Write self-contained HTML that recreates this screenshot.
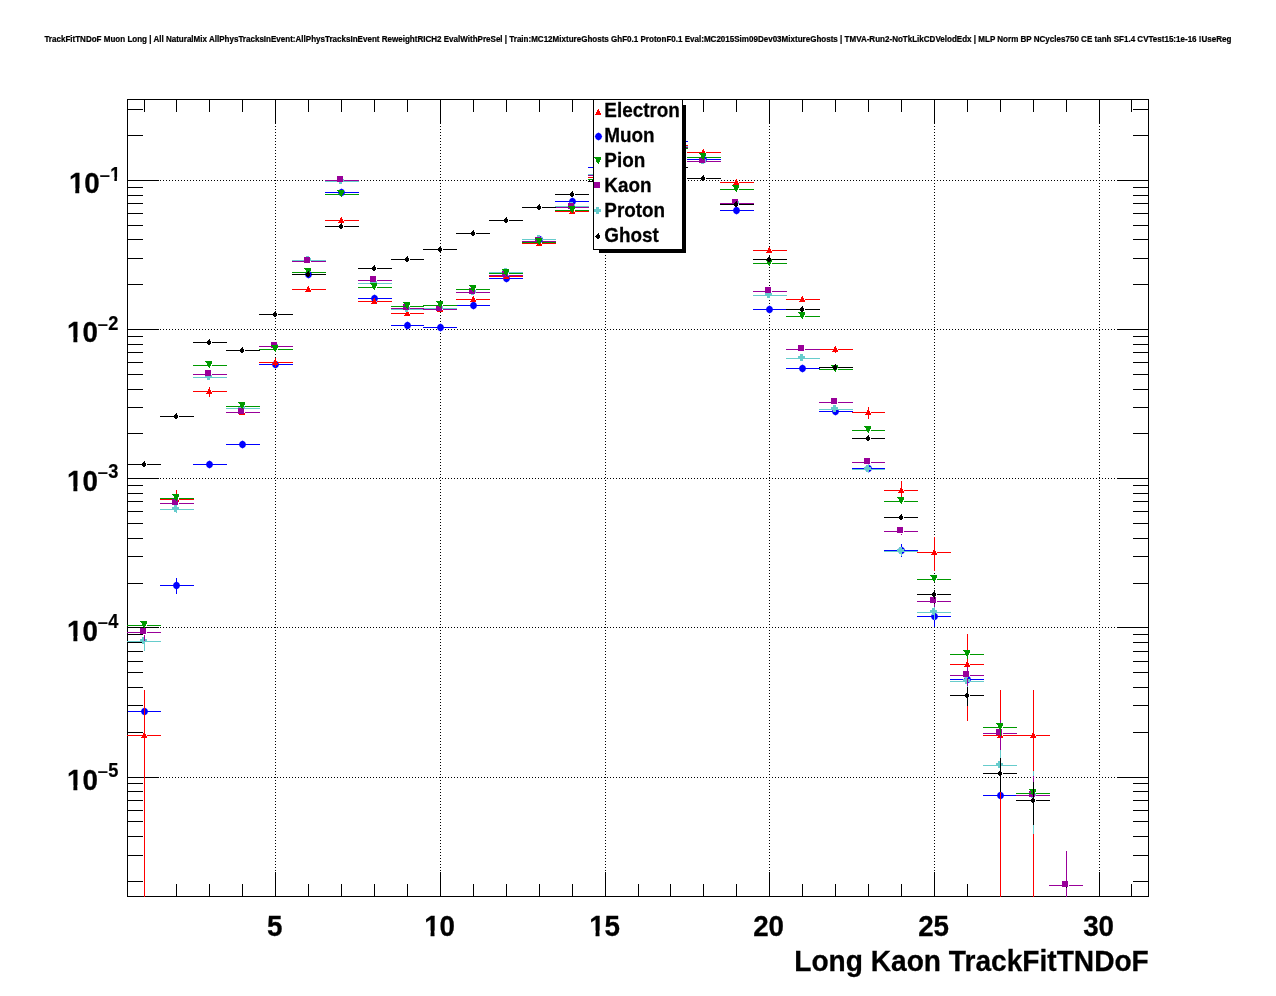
<!DOCTYPE html>
<html lang="en"><head><meta charset="utf-8"><title>Long Kaon TrackFitTNDoF</title>
<style>html,body{margin:0;padding:0;background:#fff}body{width:1276px;height:996px;overflow:hidden}svg{display:block}text{font-family:"Liberation Sans",sans-serif;font-weight:bold;fill:#000}</style></head><body>
<svg width="1276" height="996" viewBox="0 0 1276 996">
<rect width="1276" height="996" fill="#fff"/>
<defs>
<path id="m-electron" d="M0 -3h1v1h-1zM-1 -2h2v1h-2zM-1 -1h3v1h-3zM-2 0h4v1h-4zM-2 1h5v1h-5zM-3 2h6v1h-6z" fill="#ff0000" shape-rendering="crispEdges"/>
<path id="m-pion" d="M-4 -4h7v1h-7zM-3 -3h6v1h-6zM-2 -2h5v1h-5zM-2 -1h4v1h-4zM-2 0h4v1h-4zM-1 1h2v1h-2zM0 2h1v1h-1z" fill="#009900" shape-rendering="crispEdges"/>
<path id="m-kaon" d="M-4 -4h6v1h-6zM-4 -3h6v1h-6zM-4 -2h6v1h-6zM-4 -1h6v1h-6zM-4 0h6v1h-6zM-4 1h6v1h-6z" fill="#990099" shape-rendering="crispEdges"/>
<path id="m-proton" d="M-2 -4h3v1h-3zM-2 -3h3v1h-3zM-4 -2h7v1h-7zM-4 -1h7v1h-7zM-4 0h7v1h-7zM-2 1h3v1h-3zM-2 2h3v1h-3z" fill="#66cccc" shape-rendering="crispEdges"/>
<path id="m-ghost" d="M0 -3h1v1h-1zM-1 -2h2v1h-2zM-2 -1h4v1h-4zM-3 0h5v1h-5zM-2 1h4v1h-4zM-1 2h2v1h-2z" fill="#000000" shape-rendering="crispEdges"/>
<path id="m-muon" d="M0.50 -3.40L3.08 -2.08L4.10 0.50L3.08 3.08L0.50 4.40L-2.08 3.08L-3.10 0.50L-2.08 -2.08Z" fill="#0000ff" shape-rendering="geometricPrecision"/>
<clipPath id="c10" clipPathUnits="userSpaceOnUse"><path clip-rule="evenodd" d="M-200-200H200V200H-200ZM-30.08 -4.73H-24.46V1.39H-30.08ZM-20.57 -4.73H-15.35V1.39H-20.57Z"/></clipPath>
<clipPath id="c1x" clipPathUnits="userSpaceOnUse"><path clip-rule="evenodd" d="M-200-200H200V200H-200ZM-14.62 -4.73H-9.01V1.39H-14.62ZM-5.12 -4.73H0.11V1.39H-5.12Z"/></clipPath>
<clipPath id="ce1" clipPathUnits="userSpaceOnUse"><path clip-rule="evenodd" d="M-200-200H200V200H-200ZM11.17 -3.09H14.85V0.91H11.17ZM17.40 -3.09H20.82V0.91H17.40Z"/></clipPath>
</defs>
<text transform="translate(44.4 42.1) scale(1 1.1)" font-size="8.05" textLength="1187" lengthAdjust="spacingAndGlyphs" stroke="#000" stroke-width="0.22">TrackFitTNDoF Muon Long | All NaturalMix AllPhysTracksInEvent:AllPhysTracksInEvent ReweightRICH2 EvalWithPreSel | Train:MC12MixtureGhosts GhF0.1 ProtonF0.1 Eval:MC2015Sim09Dev03MixtureGhosts | TMVA-Run2-NoTkLikCDVelodEdx | MLP Norm BP NCycles750 CE tanh SF1.4 CVTest15:1e-16 !UseReg</text>
<g shape-rendering="crispEdges" fill="#000">
<path d="M127 180.5H1149" stroke="#000" stroke-width="1" stroke-dasharray="1 2" fill="none"/>
<path d="M127 329.5H1149" stroke="#000" stroke-width="1" stroke-dasharray="1 2" fill="none"/>
<path d="M127 478.5H1149" stroke="#000" stroke-width="1" stroke-dasharray="1 2" fill="none"/>
<path d="M127 627.5H1149" stroke="#000" stroke-width="1" stroke-dasharray="1 2" fill="none"/>
<path d="M127 777.5H1149" stroke="#000" stroke-width="1" stroke-dasharray="1 2" fill="none"/>
<path d="M275.5 99V897" stroke="#000" stroke-width="1" stroke-dasharray="1 2" fill="none"/>
<path d="M440.5 99V897" stroke="#000" stroke-width="1" stroke-dasharray="1 2" fill="none"/>
<path d="M605.5 99V897" stroke="#000" stroke-width="1" stroke-dasharray="1 2" fill="none"/>
<path d="M769.5 99V897" stroke="#000" stroke-width="1" stroke-dasharray="1 2" fill="none"/>
<path d="M934.5 99V897" stroke="#000" stroke-width="1" stroke-dasharray="1 2" fill="none"/>
<path d="M1099.5 99V897" stroke="#000" stroke-width="1" stroke-dasharray="1 2" fill="none"/>
</g>
<g fill="#0000ff" shape-rendering="crispEdges"><path d="M127 711h15v1h-15zM147 711h14v1h-14zM160 585h14v1h-14zM179 585h15v1h-15zM176 578h1v5h-1zM176 588h1v6h-1zM193 464h14v1h-14zM212 464h15v1h-15zM226 444h14v1h-14zM245 444h15v1h-15zM259 364h14v1h-14zM278 364h15v1h-15zM292 274h14v1h-14zM311 274h15v1h-15zM325 192h14v1h-14zM344 192h15v1h-15zM358 298h14v1h-14zM377 298h15v1h-15zM391 325h14v1h-14zM410 325h14v1h-14zM423 327h15v1h-15zM443 327h14v1h-14zM456 305h15v1h-15zM476 305h14v1h-14zM489 278h15v1h-15zM509 278h14v1h-14zM522 239h15v1h-15zM542 239h14v1h-14zM555 201h15v1h-15zM575 201h14v1h-14zM588 167h15v1h-15zM608 167h14v1h-14zM621 150h15v1h-15zM641 150h14v1h-14zM654 141h14v1h-14zM673 141h15v1h-15zM687 159h14v1h-14zM706 159h15v1h-15zM720 210h14v1h-14zM739 210h15v1h-15zM753 309h14v1h-14zM772 309h15v1h-15zM786 368h14v1h-14zM805 368h15v1h-15zM819 411h14v1h-14zM838 411h15v1h-15zM852 468h14v1h-14zM871 468h14v1h-14zM884 550h15v1h-15zM904 550h14v1h-14zM901 544h1v4h-1zM901 553h1v4h-1zM917 616h15v1h-15zM937 616h14v1h-14zM934 607h1v7h-1zM934 619h1v8h-1zM950 679h15v1h-15zM970 679h14v1h-14zM967 668h1v9h-1zM967 682h1v10h-1zM983 795h15v1h-15zM1003 795h14v1h-14zM1000 760h1v33h-1zM1000 798h1v99h-1z"/><use href="#m-muon" x="144" y="711"/><use href="#m-muon" x="176" y="585"/><use href="#m-muon" x="209" y="464"/><use href="#m-muon" x="242" y="444"/><use href="#m-muon" x="275" y="364"/><use href="#m-muon" x="308" y="274"/><use href="#m-muon" x="341" y="192"/><use href="#m-muon" x="374" y="298"/><use href="#m-muon" x="407" y="325"/><use href="#m-muon" x="440" y="327"/><use href="#m-muon" x="473" y="305"/><use href="#m-muon" x="506" y="278"/><use href="#m-muon" x="539" y="239"/><use href="#m-muon" x="572" y="201"/><use href="#m-muon" x="605" y="167"/><use href="#m-muon" x="638" y="150"/><use href="#m-muon" x="670" y="141"/><use href="#m-muon" x="703" y="159"/><use href="#m-muon" x="736" y="210"/><use href="#m-muon" x="769" y="309"/><use href="#m-muon" x="802" y="368"/><use href="#m-muon" x="835" y="411"/><use href="#m-muon" x="868" y="468"/><use href="#m-muon" x="901" y="550"/><use href="#m-muon" x="934" y="616"/><use href="#m-muon" x="967" y="679"/><use href="#m-muon" x="1000" y="795"/></g>
<g shape-rendering="crispEdges" fill="#000">
<rect x="127" y="99" width="1022" height="1"/>
<rect x="127" y="896" width="1022" height="1"/>
<rect x="127" y="99" width="1" height="798"/>
<rect x="1148" y="99" width="1" height="798"/>
<rect x="144" y="884" width="1" height="12"/>
<rect x="144" y="100" width="1" height="12"/>
<rect x="176" y="884" width="1" height="12"/>
<rect x="176" y="100" width="1" height="12"/>
<rect x="209" y="884" width="1" height="12"/>
<rect x="209" y="100" width="1" height="12"/>
<rect x="242" y="884" width="1" height="12"/>
<rect x="242" y="100" width="1" height="12"/>
<rect x="275" y="872" width="1" height="24"/>
<rect x="275" y="100" width="1" height="24"/>
<rect x="308" y="884" width="1" height="12"/>
<rect x="308" y="100" width="1" height="12"/>
<rect x="341" y="884" width="1" height="12"/>
<rect x="341" y="100" width="1" height="12"/>
<rect x="374" y="884" width="1" height="12"/>
<rect x="374" y="100" width="1" height="12"/>
<rect x="407" y="884" width="1" height="12"/>
<rect x="407" y="100" width="1" height="12"/>
<rect x="440" y="872" width="1" height="24"/>
<rect x="440" y="100" width="1" height="24"/>
<rect x="473" y="884" width="1" height="12"/>
<rect x="473" y="100" width="1" height="12"/>
<rect x="506" y="884" width="1" height="12"/>
<rect x="506" y="100" width="1" height="12"/>
<rect x="539" y="884" width="1" height="12"/>
<rect x="539" y="100" width="1" height="12"/>
<rect x="572" y="884" width="1" height="12"/>
<rect x="572" y="100" width="1" height="12"/>
<rect x="605" y="872" width="1" height="24"/>
<rect x="605" y="100" width="1" height="24"/>
<rect x="638" y="884" width="1" height="12"/>
<rect x="638" y="100" width="1" height="12"/>
<rect x="670" y="884" width="1" height="12"/>
<rect x="670" y="100" width="1" height="12"/>
<rect x="703" y="884" width="1" height="12"/>
<rect x="703" y="100" width="1" height="12"/>
<rect x="736" y="884" width="1" height="12"/>
<rect x="736" y="100" width="1" height="12"/>
<rect x="769" y="872" width="1" height="24"/>
<rect x="769" y="100" width="1" height="24"/>
<rect x="802" y="884" width="1" height="12"/>
<rect x="802" y="100" width="1" height="12"/>
<rect x="835" y="884" width="1" height="12"/>
<rect x="835" y="100" width="1" height="12"/>
<rect x="868" y="884" width="1" height="12"/>
<rect x="868" y="100" width="1" height="12"/>
<rect x="901" y="884" width="1" height="12"/>
<rect x="901" y="100" width="1" height="12"/>
<rect x="934" y="872" width="1" height="24"/>
<rect x="934" y="100" width="1" height="24"/>
<rect x="967" y="884" width="1" height="12"/>
<rect x="967" y="100" width="1" height="12"/>
<rect x="1000" y="884" width="1" height="12"/>
<rect x="1000" y="100" width="1" height="12"/>
<rect x="1033" y="884" width="1" height="12"/>
<rect x="1033" y="100" width="1" height="12"/>
<rect x="1066" y="884" width="1" height="12"/>
<rect x="1066" y="100" width="1" height="12"/>
<rect x="1099" y="872" width="1" height="24"/>
<rect x="1099" y="100" width="1" height="24"/>
<rect x="1131" y="884" width="1" height="12"/>
<rect x="1131" y="100" width="1" height="12"/>
<rect x="128" y="180" width="31" height="1"/>
<rect x="1117" y="180" width="31" height="1"/>
<rect x="128" y="135" width="15" height="1"/>
<rect x="1133" y="135" width="15" height="1"/>
<rect x="128" y="109" width="15" height="1"/>
<rect x="1133" y="109" width="15" height="1"/>
<rect x="128" y="329" width="31" height="1"/>
<rect x="1117" y="329" width="31" height="1"/>
<rect x="128" y="284" width="15" height="1"/>
<rect x="1133" y="284" width="15" height="1"/>
<rect x="128" y="258" width="15" height="1"/>
<rect x="1133" y="258" width="15" height="1"/>
<rect x="128" y="239" width="15" height="1"/>
<rect x="1133" y="239" width="15" height="1"/>
<rect x="128" y="225" width="15" height="1"/>
<rect x="1133" y="225" width="15" height="1"/>
<rect x="128" y="213" width="15" height="1"/>
<rect x="1133" y="213" width="15" height="1"/>
<rect x="128" y="203" width="15" height="1"/>
<rect x="1133" y="203" width="15" height="1"/>
<rect x="128" y="195" width="15" height="1"/>
<rect x="1133" y="195" width="15" height="1"/>
<rect x="128" y="187" width="15" height="1"/>
<rect x="1133" y="187" width="15" height="1"/>
<rect x="128" y="478" width="31" height="1"/>
<rect x="1117" y="478" width="31" height="1"/>
<rect x="128" y="433" width="15" height="1"/>
<rect x="1133" y="433" width="15" height="1"/>
<rect x="128" y="407" width="15" height="1"/>
<rect x="1133" y="407" width="15" height="1"/>
<rect x="128" y="389" width="15" height="1"/>
<rect x="1133" y="389" width="15" height="1"/>
<rect x="128" y="374" width="15" height="1"/>
<rect x="1133" y="374" width="15" height="1"/>
<rect x="128" y="362" width="15" height="1"/>
<rect x="1133" y="362" width="15" height="1"/>
<rect x="128" y="352" width="15" height="1"/>
<rect x="1133" y="352" width="15" height="1"/>
<rect x="128" y="344" width="15" height="1"/>
<rect x="1133" y="344" width="15" height="1"/>
<rect x="128" y="336" width="15" height="1"/>
<rect x="1133" y="336" width="15" height="1"/>
<rect x="128" y="627" width="31" height="1"/>
<rect x="1117" y="627" width="31" height="1"/>
<rect x="128" y="583" width="15" height="1"/>
<rect x="1133" y="583" width="15" height="1"/>
<rect x="128" y="556" width="15" height="1"/>
<rect x="1133" y="556" width="15" height="1"/>
<rect x="128" y="538" width="15" height="1"/>
<rect x="1133" y="538" width="15" height="1"/>
<rect x="128" y="523" width="15" height="1"/>
<rect x="1133" y="523" width="15" height="1"/>
<rect x="128" y="511" width="15" height="1"/>
<rect x="1133" y="511" width="15" height="1"/>
<rect x="128" y="501" width="15" height="1"/>
<rect x="1133" y="501" width="15" height="1"/>
<rect x="128" y="493" width="15" height="1"/>
<rect x="1133" y="493" width="15" height="1"/>
<rect x="128" y="485" width="15" height="1"/>
<rect x="1133" y="485" width="15" height="1"/>
<rect x="128" y="777" width="31" height="1"/>
<rect x="1117" y="777" width="31" height="1"/>
<rect x="128" y="732" width="15" height="1"/>
<rect x="1133" y="732" width="15" height="1"/>
<rect x="128" y="705" width="15" height="1"/>
<rect x="1133" y="705" width="15" height="1"/>
<rect x="128" y="687" width="15" height="1"/>
<rect x="1133" y="687" width="15" height="1"/>
<rect x="128" y="672" width="15" height="1"/>
<rect x="1133" y="672" width="15" height="1"/>
<rect x="128" y="661" width="15" height="1"/>
<rect x="1133" y="661" width="15" height="1"/>
<rect x="128" y="651" width="15" height="1"/>
<rect x="1133" y="651" width="15" height="1"/>
<rect x="128" y="642" width="15" height="1"/>
<rect x="1133" y="642" width="15" height="1"/>
<rect x="128" y="634" width="15" height="1"/>
<rect x="1133" y="634" width="15" height="1"/>
<rect x="128" y="881" width="15" height="1"/>
<rect x="1133" y="881" width="15" height="1"/>
<rect x="128" y="855" width="15" height="1"/>
<rect x="1133" y="855" width="15" height="1"/>
<rect x="128" y="836" width="15" height="1"/>
<rect x="1133" y="836" width="15" height="1"/>
<rect x="128" y="821" width="15" height="1"/>
<rect x="1133" y="821" width="15" height="1"/>
<rect x="128" y="810" width="15" height="1"/>
<rect x="1133" y="810" width="15" height="1"/>
<rect x="128" y="800" width="15" height="1"/>
<rect x="1133" y="800" width="15" height="1"/>
<rect x="128" y="791" width="15" height="1"/>
<rect x="1133" y="791" width="15" height="1"/>
<rect x="128" y="783" width="15" height="1"/>
<rect x="1133" y="783" width="15" height="1"/>
</g>
<g fill="#ff0000" shape-rendering="crispEdges"><path d="M127 735h15v1h-15zM147 735h14v1h-14zM144 690h1v43h-1zM144 738h1v159h-1zM160 499h14v1h-14zM179 499h15v1h-15zM176 490h1v7h-1zM176 502h1v8h-1zM193 391h14v1h-14zM212 391h15v1h-15zM209 387h1v2h-1zM209 394h1v3h-1zM226 412h14v1h-14zM245 412h15v1h-15zM259 362h14v1h-14zM278 362h15v1h-15zM275 358h1v2h-1zM275 365h1v2h-1zM292 289h14v1h-14zM311 289h15v1h-15zM325 220h14v1h-14zM344 220h15v1h-15zM358 301h14v1h-14zM377 301h15v1h-15zM391 313h14v1h-14zM410 313h14v1h-14zM423 309h15v1h-15zM443 309h14v1h-14zM456 299h15v1h-15zM476 299h14v1h-14zM489 276h15v1h-15zM509 276h14v1h-14zM522 243h15v1h-15zM542 243h14v1h-14zM555 211h15v1h-15zM575 211h14v1h-14zM588 177h15v1h-15zM608 177h14v1h-14zM621 157h15v1h-15zM641 157h14v1h-14zM654 145h14v1h-14zM673 145h15v1h-15zM687 152h14v1h-14zM706 152h15v1h-15zM720 182h14v1h-14zM739 182h15v1h-15zM753 250h14v1h-14zM772 250h15v1h-15zM786 299h14v1h-14zM805 299h15v1h-15zM819 349h14v1h-14zM838 349h15v1h-15zM835 346h1v1h-1zM835 352h1v1h-1zM852 412h14v1h-14zM871 412h14v1h-14zM868 407h1v3h-1zM868 415h1v4h-1zM884 490h15v1h-15zM904 490h14v1h-14zM901 481h1v7h-1zM901 493h1v7h-1zM917 552h15v1h-15zM937 552h14v1h-14zM934 537h1v13h-1zM934 555h1v16h-1zM950 664h15v1h-15zM970 664h14v1h-14zM967 634h1v28h-1zM967 667h1v54h-1zM983 735h15v1h-15zM1003 735h14v1h-14zM1000 690h1v43h-1zM1000 738h1v159h-1zM1016 735h15v1h-15zM1036 735h14v1h-14zM1033 690h1v43h-1zM1033 738h1v159h-1z"/><use href="#m-electron" x="144" y="735"/><use href="#m-electron" x="176" y="499"/><use href="#m-electron" x="209" y="391"/><use href="#m-electron" x="242" y="412"/><use href="#m-electron" x="275" y="362"/><use href="#m-electron" x="308" y="289"/><use href="#m-electron" x="341" y="220"/><use href="#m-electron" x="374" y="301"/><use href="#m-electron" x="407" y="313"/><use href="#m-electron" x="440" y="309"/><use href="#m-electron" x="473" y="299"/><use href="#m-electron" x="506" y="276"/><use href="#m-electron" x="539" y="243"/><use href="#m-electron" x="572" y="211"/><use href="#m-electron" x="605" y="177"/><use href="#m-electron" x="638" y="157"/><use href="#m-electron" x="670" y="145"/><use href="#m-electron" x="703" y="152"/><use href="#m-electron" x="736" y="182"/><use href="#m-electron" x="769" y="250"/><use href="#m-electron" x="802" y="299"/><use href="#m-electron" x="835" y="349"/><use href="#m-electron" x="868" y="412"/><use href="#m-electron" x="901" y="490"/><use href="#m-electron" x="934" y="552"/><use href="#m-electron" x="967" y="664"/><use href="#m-electron" x="1000" y="735"/><use href="#m-electron" x="1033" y="735"/></g>
<g fill="#66cccc" shape-rendering="crispEdges"><path d="M127 641h15v1h-15zM147 641h14v1h-14zM144 635h1v4h-1zM144 644h1v7h-1zM160 509h14v1h-14zM179 509h15v1h-15zM176 506h1v1h-1zM176 512h1v1h-1zM193 377h14v1h-14zM212 377h15v1h-15zM226 408h14v1h-14zM245 408h15v1h-15zM259 346h14v1h-14zM278 346h15v1h-15zM292 260h14v1h-14zM311 260h15v1h-15zM325 181h14v1h-14zM344 181h15v1h-15zM358 283h14v1h-14zM377 283h15v1h-15zM391 309h14v1h-14zM410 309h14v1h-14zM423 308h15v1h-15zM443 308h14v1h-14zM456 292h15v1h-15zM476 292h14v1h-14zM489 272h15v1h-15zM509 272h14v1h-14zM522 239h15v1h-15zM542 239h14v1h-14zM555 206h15v1h-15zM575 206h14v1h-14zM588 174h15v1h-15zM608 174h14v1h-14zM621 159h15v1h-15zM641 159h14v1h-14zM654 146h14v1h-14zM673 146h15v1h-15zM687 161h14v1h-14zM706 161h15v1h-15zM720 203h14v1h-14zM739 203h15v1h-15zM753 295h14v1h-14zM772 295h15v1h-15zM786 358h14v1h-14zM805 358h15v1h-15zM819 409h14v1h-14zM838 409h15v1h-15zM852 469h14v1h-14zM871 469h14v1h-14zM884 551h15v1h-15zM904 551h14v1h-14zM901 547h1v2h-1zM901 554h1v2h-1zM917 612h15v1h-15zM937 612h14v1h-14zM934 607h1v3h-1zM934 615h1v5h-1zM950 681h15v1h-15zM970 681h14v1h-14zM967 675h1v4h-1zM967 684h1v3h-1zM983 765h15v1h-15zM1003 765h14v1h-14zM1000 750h1v13h-1zM1000 768h1v18h-1zM1016 795h15v1h-15zM1036 795h14v1h-14zM1033 771h1v22h-1zM1033 798h1v36h-1z"/><use href="#m-proton" x="144" y="641"/><use href="#m-proton" x="176" y="509"/><use href="#m-proton" x="209" y="377"/><use href="#m-proton" x="242" y="408"/><use href="#m-proton" x="275" y="346"/><use href="#m-proton" x="308" y="260"/><use href="#m-proton" x="341" y="181"/><use href="#m-proton" x="374" y="283"/><use href="#m-proton" x="407" y="309"/><use href="#m-proton" x="440" y="308"/><use href="#m-proton" x="473" y="292"/><use href="#m-proton" x="506" y="272"/><use href="#m-proton" x="539" y="239"/><use href="#m-proton" x="572" y="206"/><use href="#m-proton" x="605" y="174"/><use href="#m-proton" x="638" y="159"/><use href="#m-proton" x="670" y="146"/><use href="#m-proton" x="703" y="161"/><use href="#m-proton" x="736" y="203"/><use href="#m-proton" x="769" y="295"/><use href="#m-proton" x="802" y="358"/><use href="#m-proton" x="835" y="409"/><use href="#m-proton" x="868" y="469"/><use href="#m-proton" x="901" y="551"/><use href="#m-proton" x="934" y="612"/><use href="#m-proton" x="967" y="681"/><use href="#m-proton" x="1000" y="765"/><use href="#m-proton" x="1033" y="795"/></g>
<g fill="#990099" shape-rendering="crispEdges"><path d="M127 632h15v1h-15zM147 632h14v1h-14zM144 626h1v4h-1zM144 635h1v6h-1zM160 503h14v1h-14zM179 503h15v1h-15zM193 374h14v1h-14zM212 374h15v1h-15zM226 412h14v1h-14zM245 412h15v1h-15zM259 346h14v1h-14zM278 346h15v1h-15zM292 261h14v1h-14zM311 261h15v1h-15zM325 180h14v1h-14zM344 180h15v1h-15zM358 280h14v1h-14zM377 280h15v1h-15zM391 308h14v1h-14zM410 308h14v1h-14zM423 309h15v1h-15zM443 309h14v1h-14zM456 292h15v1h-15zM476 292h14v1h-14zM489 275h15v1h-15zM509 275h14v1h-14zM522 241h15v1h-15zM542 241h14v1h-14zM555 207h15v1h-15zM575 207h14v1h-14zM588 175h15v1h-15zM608 175h14v1h-14zM621 158h15v1h-15zM641 158h14v1h-14zM654 147h14v1h-14zM673 147h15v1h-15zM687 161h14v1h-14zM706 161h15v1h-15zM720 203h14v1h-14zM739 203h15v1h-15zM753 291h14v1h-14zM772 291h15v1h-15zM786 349h14v1h-14zM805 349h15v1h-15zM819 402h14v1h-14zM838 402h15v1h-15zM852 462h14v1h-14zM871 462h14v1h-14zM884 531h15v1h-15zM904 531h14v1h-14zM901 527h1v2h-1zM901 534h1v1h-1zM917 601h15v1h-15zM937 601h14v1h-14zM934 596h1v3h-1zM934 604h1v3h-1zM950 675h15v1h-15zM970 675h14v1h-14zM967 667h1v6h-1zM967 678h1v8h-1zM983 733h15v1h-15zM1003 733h14v1h-14zM1000 720h1v11h-1zM1000 736h1v14h-1zM1016 795h15v1h-15zM1036 795h14v1h-14zM1033 776h1v17h-1zM1033 798h1v25h-1zM1049 885h15v1h-15zM1069 885h14v1h-14zM1066 851h1v32h-1zM1066 888h1v9h-1z"/><use href="#m-kaon" x="144" y="632"/><use href="#m-kaon" x="176" y="503"/><use href="#m-kaon" x="209" y="374"/><use href="#m-kaon" x="242" y="412"/><use href="#m-kaon" x="275" y="346"/><use href="#m-kaon" x="308" y="261"/><use href="#m-kaon" x="341" y="180"/><use href="#m-kaon" x="374" y="280"/><use href="#m-kaon" x="407" y="308"/><use href="#m-kaon" x="440" y="309"/><use href="#m-kaon" x="473" y="292"/><use href="#m-kaon" x="506" y="275"/><use href="#m-kaon" x="539" y="241"/><use href="#m-kaon" x="572" y="207"/><use href="#m-kaon" x="605" y="175"/><use href="#m-kaon" x="638" y="158"/><use href="#m-kaon" x="670" y="147"/><use href="#m-kaon" x="703" y="161"/><use href="#m-kaon" x="736" y="203"/><use href="#m-kaon" x="769" y="291"/><use href="#m-kaon" x="802" y="349"/><use href="#m-kaon" x="835" y="402"/><use href="#m-kaon" x="868" y="462"/><use href="#m-kaon" x="901" y="531"/><use href="#m-kaon" x="934" y="601"/><use href="#m-kaon" x="967" y="675"/><use href="#m-kaon" x="1000" y="733"/><use href="#m-kaon" x="1033" y="795"/><use href="#m-kaon" x="1066" y="885"/></g>
<g fill="#009900" shape-rendering="crispEdges"><path d="M127 625h15v1h-15zM147 625h14v1h-14zM160 498h14v1h-14zM179 498h15v1h-15zM193 365h14v1h-14zM212 365h15v1h-15zM226 406h14v1h-14zM245 406h15v1h-15zM259 349h14v1h-14zM278 349h15v1h-15zM292 272h14v1h-14zM311 272h15v1h-15zM325 194h14v1h-14zM344 194h15v1h-15zM358 287h14v1h-14zM377 287h15v1h-15zM391 306h14v1h-14zM410 306h14v1h-14zM423 305h15v1h-15zM443 305h14v1h-14zM456 289h15v1h-15zM476 289h14v1h-14zM489 273h15v1h-15zM509 273h14v1h-14zM522 242h15v1h-15zM542 242h14v1h-14zM555 210h15v1h-15zM575 210h14v1h-14zM588 179h15v1h-15zM608 179h14v1h-14zM621 160h15v1h-15zM641 160h14v1h-14zM654 148h14v1h-14zM673 148h15v1h-15zM687 157h14v1h-14zM706 157h15v1h-15zM720 189h14v1h-14zM739 189h15v1h-15zM753 263h14v1h-14zM772 263h15v1h-15zM786 316h14v1h-14zM805 316h15v1h-15zM819 369h14v1h-14zM838 369h15v1h-15zM852 430h14v1h-14zM871 430h14v1h-14zM884 501h15v1h-15zM904 501h14v1h-14zM917 579h15v1h-15zM937 579h14v1h-14zM950 654h15v1h-15zM970 654h14v1h-14zM967 651h1v1h-1zM967 657h1v2h-1zM983 727h15v1h-15zM1003 727h14v1h-14zM1000 724h1v1h-1zM1000 730h1v6h-1zM1016 793h15v1h-15zM1036 793h14v1h-14zM1033 787h1v4h-1zM1033 796h1v5h-1z"/><use href="#m-pion" x="144" y="625"/><use href="#m-pion" x="176" y="498"/><use href="#m-pion" x="209" y="365"/><use href="#m-pion" x="242" y="406"/><use href="#m-pion" x="275" y="349"/><use href="#m-pion" x="308" y="272"/><use href="#m-pion" x="341" y="194"/><use href="#m-pion" x="374" y="287"/><use href="#m-pion" x="407" y="306"/><use href="#m-pion" x="440" y="305"/><use href="#m-pion" x="473" y="289"/><use href="#m-pion" x="506" y="273"/><use href="#m-pion" x="539" y="242"/><use href="#m-pion" x="572" y="210"/><use href="#m-pion" x="605" y="179"/><use href="#m-pion" x="638" y="160"/><use href="#m-pion" x="670" y="148"/><use href="#m-pion" x="703" y="157"/><use href="#m-pion" x="736" y="189"/><use href="#m-pion" x="769" y="263"/><use href="#m-pion" x="802" y="316"/><use href="#m-pion" x="835" y="369"/><use href="#m-pion" x="868" y="430"/><use href="#m-pion" x="901" y="501"/><use href="#m-pion" x="934" y="579"/><use href="#m-pion" x="967" y="654"/><use href="#m-pion" x="1000" y="727"/><use href="#m-pion" x="1033" y="793"/></g>
<g fill="#000000" shape-rendering="crispEdges"><path d="M127 464h15v1h-15zM147 464h14v1h-14zM160 416h14v1h-14zM179 416h15v1h-15zM193 342h14v1h-14zM212 342h15v1h-15zM226 350h14v1h-14zM245 350h15v1h-15zM259 314h14v1h-14zM278 314h15v1h-15zM292 274h14v1h-14zM311 274h15v1h-15zM325 226h14v1h-14zM344 226h15v1h-15zM358 268h14v1h-14zM377 268h15v1h-15zM391 259h14v1h-14zM410 259h14v1h-14zM423 249h15v1h-15zM443 249h14v1h-14zM456 233h15v1h-15zM476 233h14v1h-14zM489 220h15v1h-15zM509 220h14v1h-14zM522 207h15v1h-15zM542 207h14v1h-14zM555 194h15v1h-15zM575 194h14v1h-14zM588 181h15v1h-15zM608 181h14v1h-14zM621 170h15v1h-15zM641 170h14v1h-14zM654 167h14v1h-14zM673 167h15v1h-15zM687 178h14v1h-14zM706 178h15v1h-15zM720 204h14v1h-14zM739 204h15v1h-15zM753 259h14v1h-14zM772 259h15v1h-15zM786 309h14v1h-14zM805 309h15v1h-15zM819 367h14v1h-14zM838 367h15v1h-15zM852 438h14v1h-14zM871 438h14v1h-14zM884 517h15v1h-15zM904 517h14v1h-14zM917 594h15v1h-15zM937 594h14v1h-14zM934 590h1v2h-1zM934 597h1v2h-1zM950 695h15v1h-15zM970 695h14v1h-14zM967 687h1v6h-1zM967 698h1v8h-1zM983 773h15v1h-15zM1003 773h14v1h-14zM1000 758h1v13h-1zM1000 776h1v16h-1zM1016 800h15v1h-15zM1036 800h14v1h-14zM1033 782h1v16h-1zM1033 803h1v22h-1z"/><use href="#m-ghost" x="144" y="464"/><use href="#m-ghost" x="176" y="416"/><use href="#m-ghost" x="209" y="342"/><use href="#m-ghost" x="242" y="350"/><use href="#m-ghost" x="275" y="314"/><use href="#m-ghost" x="308" y="274"/><use href="#m-ghost" x="341" y="226"/><use href="#m-ghost" x="374" y="268"/><use href="#m-ghost" x="407" y="259"/><use href="#m-ghost" x="440" y="249"/><use href="#m-ghost" x="473" y="233"/><use href="#m-ghost" x="506" y="220"/><use href="#m-ghost" x="539" y="207"/><use href="#m-ghost" x="572" y="194"/><use href="#m-ghost" x="605" y="181"/><use href="#m-ghost" x="638" y="170"/><use href="#m-ghost" x="670" y="167"/><use href="#m-ghost" x="703" y="178"/><use href="#m-ghost" x="736" y="204"/><use href="#m-ghost" x="769" y="259"/><use href="#m-ghost" x="802" y="309"/><use href="#m-ghost" x="835" y="367"/><use href="#m-ghost" x="868" y="438"/><use href="#m-ghost" x="901" y="517"/><use href="#m-ghost" x="934" y="594"/><use href="#m-ghost" x="967" y="695"/><use href="#m-ghost" x="1000" y="773"/><use href="#m-ghost" x="1033" y="800"/></g>
<g shape-rendering="crispEdges">
<rect x="599" y="250" width="87" height="3" fill="#000"/>
<rect x="683" y="105" width="3" height="148" fill="#000"/>
<rect x="593.5" y="99.5" width="89" height="150" fill="#fff" stroke="#000" stroke-width="1"/>
</g>
<use href="#m-electron" x="598" y="112"/>
<use href="#m-muon" x="598" y="136"/>
<use href="#m-pion" x="598" y="161"/>
<use href="#m-kaon" x="598" y="186"/>
<use href="#m-proton" x="598" y="211"/>
<use href="#m-ghost" x="598" y="236"/>
<text transform="translate(604.3 116.6) scale(1 1.027)" font-size="18.9" stroke="#000" stroke-width="0.25">Electron</text>
<text transform="translate(604.3 141.6) scale(1 1.027)" font-size="18.9" stroke="#000" stroke-width="0.25">Muon</text>
<text transform="translate(604.3 166.6) scale(1 1.027)" font-size="18.9" stroke="#000" stroke-width="0.25">Pion</text>
<text transform="translate(604.3 191.6) scale(1 1.027)" font-size="18.9" stroke="#000" stroke-width="0.25">Kaon</text>
<text transform="translate(604.3 216.6) scale(1 1.027)" font-size="18.9" stroke="#000" stroke-width="0.25">Proton</text>
<text transform="translate(604.3 241.6) scale(1 1.027)" font-size="18.9" stroke="#000" stroke-width="0.25">Ghost</text>
<text transform="translate(274.6 935.55) scale(1 1.087)" font-size="27.8" text-anchor="middle" stroke="#000" stroke-width="0.25">5</text>
<text transform="translate(439.6 935.55) scale(1 1.087)" font-size="27.8" text-anchor="middle" stroke="#000" stroke-width="0.25" clip-path="url(#c1x)">10</text>
<text transform="translate(604.6 935.55) scale(1 1.087)" font-size="27.8" text-anchor="middle" stroke="#000" stroke-width="0.25" clip-path="url(#c1x)">15</text>
<text transform="translate(768.6 935.55) scale(1 1.087)" font-size="27.8" text-anchor="middle" stroke="#000" stroke-width="0.25">20</text>
<text transform="translate(933.6 935.55) scale(1 1.087)" font-size="27.8" text-anchor="middle" stroke="#000" stroke-width="0.25">25</text>
<text transform="translate(1098.6 935.55) scale(1 1.087)" font-size="27.8" text-anchor="middle" stroke="#000" stroke-width="0.25">30</text>
<text transform="translate(99.8 193.3) scale(1 1.07)" font-size="27.8" text-anchor="end" stroke="#000" stroke-width="0.25" clip-path="url(#c10)">10</text>
<text transform="translate(99.5 180.55) scale(1 1.12)" font-size="18.2" stroke="#000" stroke-width="0.2" clip-path="url(#ce1)"><tspan font-weight="normal" stroke-width="0.3" dy="2.1">−</tspan><tspan dy="-2.1">1</tspan></text>
<text transform="translate(97.9 342.3) scale(1 1.07)" font-size="27.8" text-anchor="end" stroke="#000" stroke-width="0.25" clip-path="url(#c10)">10</text>
<text transform="translate(97.6 329.55) scale(1 1.12)" font-size="18.2" stroke="#000" stroke-width="0.2"><tspan font-weight="normal" stroke-width="0.3" dy="2.1">−</tspan><tspan dy="-2.1">2</tspan></text>
<text transform="translate(97.9 491.3) scale(1 1.07)" font-size="27.8" text-anchor="end" stroke="#000" stroke-width="0.25" clip-path="url(#c10)">10</text>
<text transform="translate(97.6 478.1) scale(1 1.12)" font-size="18.2" stroke="#000" stroke-width="0.2"><tspan font-weight="normal" stroke-width="0.3" dy="1.3">−</tspan><tspan dy="-1.3">3</tspan></text>
<text transform="translate(97.9 641.0) scale(1 1.07)" font-size="27.8" text-anchor="end" stroke="#000" stroke-width="0.25" clip-path="url(#c10)">10</text>
<text transform="translate(97.6 627.55) scale(1 1.12)" font-size="18.2" stroke="#000" stroke-width="0.2"><tspan font-weight="normal" stroke-width="0.3" dy="2.1">−</tspan><tspan dy="-2.1">4</tspan></text>
<text transform="translate(97.9 790.3) scale(1 1.07)" font-size="27.8" text-anchor="end" stroke="#000" stroke-width="0.25" clip-path="url(#c10)">10</text>
<text transform="translate(97.6 777.1) scale(1 1.12)" font-size="18.2" stroke="#000" stroke-width="0.2"><tspan font-weight="normal" stroke-width="0.3" dy="1.3">−</tspan><tspan dy="-1.3">5</tspan></text>
<text transform="translate(1148.8 971.2) scale(1 1.05)" font-size="28.12" text-anchor="end" stroke="#000" stroke-width="0.25">Long Kaon TrackFitTNDoF</text>
</svg></body></html>
